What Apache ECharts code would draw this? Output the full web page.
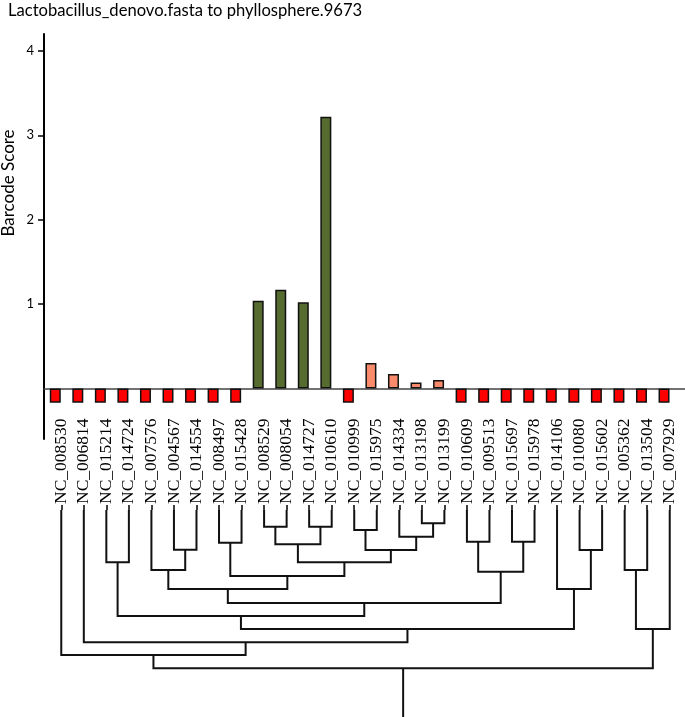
<!DOCTYPE html>
<html><head><meta charset="utf-8">
<script src="https://cdn.jsdelivr.net/npm/echarts@6/dist/echarts.min.js"></script>
<style>html,body{margin:0;padding:0;background:#fff}#c{width:685px;height:717px}</style>
</head><body><div id="c"></div>
<script>
// ---- data ----
const titleText = 'Lactobacillus_denovo.fasta to phyllosphere.9673';
const yAxisTitle = 'Barcode Score';
const categories = ['NC_008530','NC_006814','NC_015214','NC_014724','NC_007576','NC_004567','NC_014554','NC_008497','NC_015428','NC_008529','NC_008054','NC_014727','NC_010610','NC_010999','NC_015975','NC_014334','NC_013198','NC_013199','NC_010609','NC_009513','NC_015697','NC_015978','NC_014106','NC_010080','NC_015602','NC_005362','NC_013504','NC_007929'];
const scores = [-0.17,-0.17,-0.17,-0.17,-0.17,-0.17,-0.17,-0.17,-0.17,1.04,1.17,1.02,3.22,-0.17,0.30,0.17,0.07,0.10,-0.17,-0.17,-0.17,-0.17,-0.17,-0.17,-0.17,-0.17,-0.17,-0.17];
const yTicks = [1, 2, 3, 4];
// dendrogram (hclust style): negative = leaf -(index+1), non-negative = earlier merge index
const mergeLeft   = [-17,-10,-12,-14,-16,-19,-21,-8, 1,-6, 3,-24,-3, 8,-5,-26, 5, 7,14,-23,18,12,21,15,-2,-1,25];
const mergeRight  = [-18,-11,-13,-15,  0,-20,-22,-9, 2,-7, 4,-25,-4,10, 9,-27, 6,13,17, 11,16,20,19,-28,22,24,23];
const mergeHeight = [13.3,16.7,16.7,20,26.7,31.7,31.7,32.7,34.3,39.7,40,40,52.3,52.3,60,60,61.7,66,79,79,93,106,119,119,132.3,145,158.3];
const dendroMax = 207;

// ---- build dendrogram segments ----
const nodes = [];
const links = [];
function nodePos(ref) { return ref < 0 ? { x: -ref - 1, h: 0 } : nodes[ref]; }
for (let i = 0; i < mergeHeight.length; i++) {
  const a = nodePos(mergeLeft[i]), b = nodePos(mergeRight[i]), h = mergeHeight[i];
  nodes.push({ x: (a.x + b.x) / 2, h: h });
  links.push([a.x, a.h, b.x, b.h, h, 0]);
}
const root = nodes[nodes.length - 1];
links.push([root.x, root.h, root.x, dendroMax, dendroMax, 1]);

const chart = echarts.init(document.getElementById('c'));
chart.setOption({
  animation: false,
  backgroundColor: '#fff',
  title: { text: titleText, left: 8, top: 2, padding: 0, textStyle: { fontFamily: 'Lato', fontSize: 16.6, fontWeight: 'normal', color: '#000' } },
  graphic: [{ type: 'text', x: 9, y: 183, rotation: Math.PI / 2,
    style: { text: yAxisTitle, font: '17px Lato', fill: '#000', textAlign: 'center', textVerticalAlign: 'middle' } }],
  grid: [
    { left: 44, right: 0, top: 34, height: 405 },
    { left: 50, right: 4, top: 510, bottom: 0 }
  ],
  xAxis: [
    { type: 'value', gridIndex: 0, min: -0.5, max: 27.93,
      axisLine: { onZero: true, lineStyle: { color: '#444', width: 1.5 } },
      axisTick: { show: false }, axisLabel: { show: false }, splitLine: { show: false } },
    { type: 'category', gridIndex: 1, position: 'top', offset: 2, data: categories, boundaryGap: true,
      axisLine: { show: false },
      axisTick: { show: true, alignWithLabel: true, length: 5, lineStyle: { color: '#000', width: 1.5 } },
      axisLabel: { rotate: 90, margin: 4, fontFamily: 'Liberation Serif', fontSize: 17.5, color: '#000', interval: 0 } },
    { type: 'value', gridIndex: 1, min: -0.5, max: 27.5, show: false }
  ],
  yAxis: [
    { type: 'value', gridIndex: 0, min: -0.6, max: 4.2,
      axisLine: { show: true, onZero: false, lineStyle: { color: '#000', width: 2 } },
      axisTick: { show: true, customValues: yTicks, length: 6, lineStyle: { color: '#000', width: 1.5 } },
      axisLabel: { customValues: yTicks, margin: 10, fontFamily: 'Lato', fontSize: 13, color: '#000', verticalAlign: 'middle', lineHeight: 13, padding: [0, 0, 7, 0] },
      splitLine: { show: false } },
    { type: 'value', gridIndex: 1, min: 0, max: dendroMax, inverse: true, show: false }
  ],
  series: [
    { type: 'bar', xAxisIndex: 0, yAxisIndex: 0, barWidth: 11,
      data: scores.map((v, i) => [i, v]),
      itemStyle: { borderColor: '#111', borderWidth: 1.5,
        color: p => p.value[1] < 0 ? '#ff0000' : (p.value[1] >= 0.5 ? '#556b2f' : '#f98a6b') } },
    { type: 'custom', xAxisIndex: 2, yAxisIndex: 1, data: links,
      encode: { x: [0, 2], y: [1, 3] },
      renderItem: (params, api) => {
        const x1 = api.value(0), h1 = api.value(1), x2 = api.value(2), h2 = api.value(3), h = api.value(4), stem = api.value(5);
        const pts = stem ? [api.coord([x1, h1]), api.coord([x1, h2])]
          : [api.coord([x1, h1]), api.coord([x1, h]), api.coord([x2, h]), api.coord([x2, h2])];
        return { type: 'polyline', shape: { points: pts }, style: { stroke: '#111', lineWidth: 2, fill: null } };
      } }
  ]
});
</script></body></html>
